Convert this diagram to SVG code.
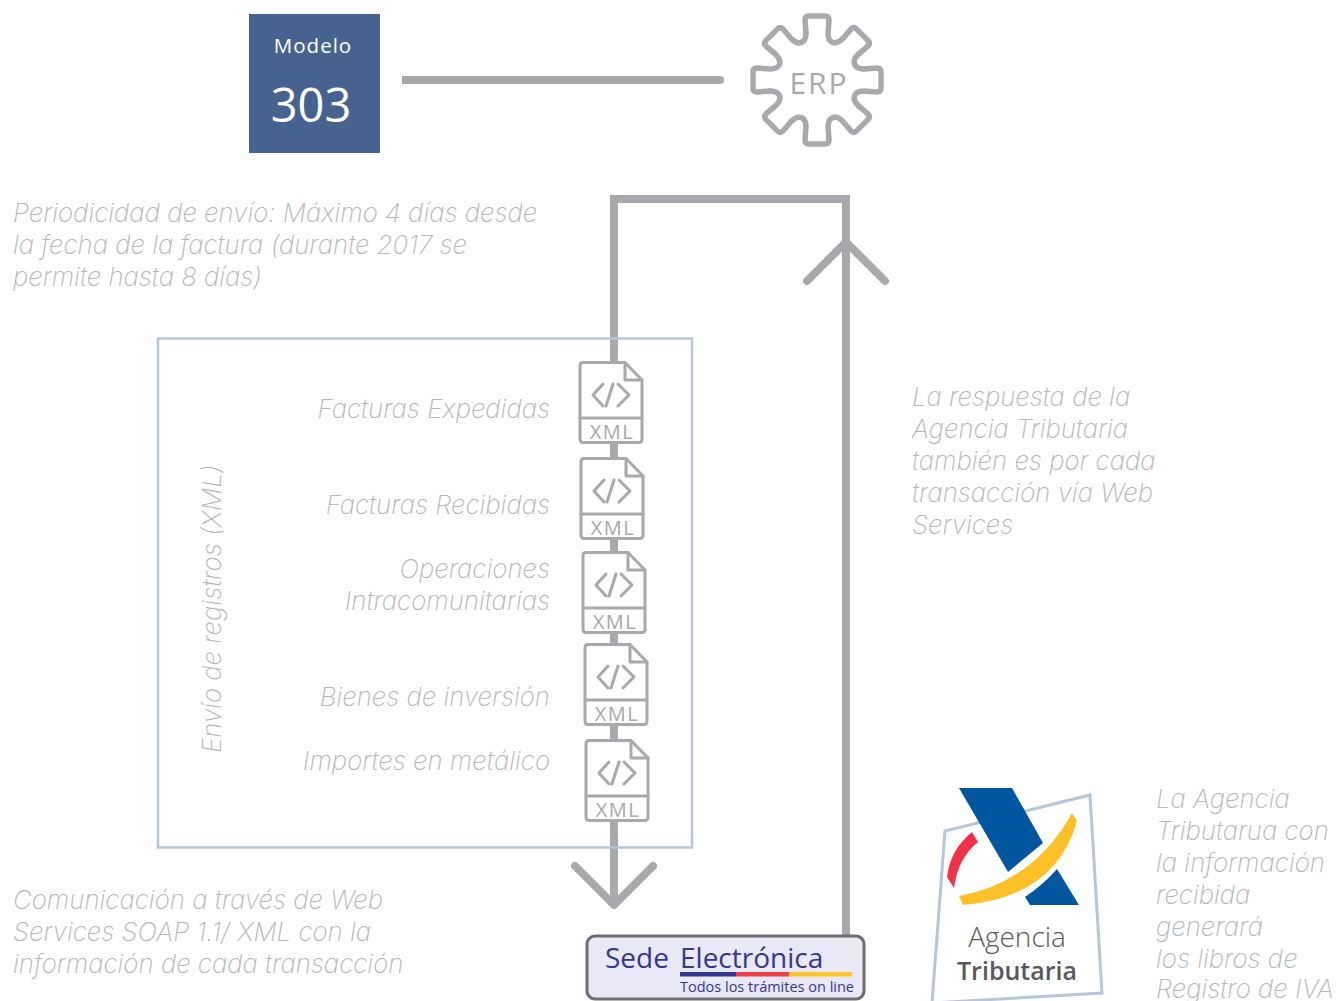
<svg xmlns="http://www.w3.org/2000/svg" xmlns:xlink="http://www.w3.org/1999/xlink" width="1341" height="1001" viewBox="0 0 1341 1001">
<style>
text{font-family:"Open Sans","Liberation Sans",sans-serif}
.note,.note text{font-family:"Inter","Open Sans",sans-serif;font-size:25.800px;font-style:italic;font-weight:200;fill:#b4b6b8}
.e{text-anchor:end}
.conn{fill:none;stroke:#a7a9ac;stroke-width:8;stroke-linejoin:miter}
.rnd{stroke-linecap:round;stroke-linejoin:round}
.ic{fill:none;stroke:#a7a9ac;stroke-width:3;stroke-linecap:round;stroke-linejoin:round}
.xml{font-size:20px;font-weight:500;fill:#a7a9ac;text-anchor:middle;letter-spacing:1.500px}
</style>
<defs>
<path id="tooth" d="M-11,-47L-12,-60Q-12,-64 -8,-64H8Q12,-64 12,-60L11,-47C11,-37 18.300,-34 25.400,-41.100" fill="none" stroke="#a7a9ac" stroke-width="5.500" stroke-linejoin="round" stroke-linecap="round"/>
<g id="doc">
<path d="M3,0.500H45L62,18V77Q62,80.500 59,80.500H3Q0,80.500 0,77V4Q0,0.500 3,0.500Z" fill="#fff" stroke="#a7a9ac" stroke-width="3" stroke-linejoin="round"/>
<path d="M45,0.500V18H62M0,56H62" class="ic"/>
<path d="M23,22L13,33L23,44M33,22L26,44M38,22L49,33L38,44" class="ic"/>
</g>
</defs>
<g id="connectors">
<path class="conn" d="M402,80H720"/>
<path class="conn rnd" d="M720,80H720"/>
<path class="conn" d="M614,905V199H846V936"/>
<path class="conn rnd" d="M807,281L846,242L885,281"/>
<path class="conn rnd" d="M575,866L614,905L653,866"/>
</g>
<g id="modelo303">
<rect x="249" y="14" width="131" height="139" fill="#466390"/>
<text x="313" y="53" font-size="20.500" fill="#fff" text-anchor="middle" letter-spacing="1">Modelo</text>
<text x="311" y="122" font-size="47" fill="#fff" text-anchor="middle">303</text>
</g>
<g id="erp">
<g transform="translate(817,80)">
<use xlink:href="#tooth"/>
<use xlink:href="#tooth" transform="rotate(45)"/>
<use xlink:href="#tooth" transform="rotate(90)"/>
<use xlink:href="#tooth" transform="rotate(135)"/>
<use xlink:href="#tooth" transform="rotate(180)"/>
<use xlink:href="#tooth" transform="rotate(225)"/>
<use xlink:href="#tooth" transform="rotate(270)"/>
<use xlink:href="#tooth" transform="rotate(315)"/>
</g>
<text x="819" y="94" font-size="30" fill="#a7a9ac" text-anchor="middle" letter-spacing="2">ERP</text>
</g>
<g id="note-periodicidad" class="note">
<text x="13" y="222">Periodicidad de envío: Máximo 4 días desde</text>
<text x="13" y="254">la fecha de la factura (durante 2017 se</text>
<text x="13" y="286">permite hasta 8 días)</text>
</g>
<g id="envio-registros">
<rect x="158" y="338.500" width="534" height="509" fill="none" stroke="#b8c5d8" stroke-width="2.500"/>
<text class="note" transform="translate(221,753) rotate(-90)">Envío de registros (XML)</text>
</g>
<g id="facturas-expedidas">
<text class="note e" x="550" y="418">Facturas Expedidas</text>
<use xlink:href="#doc" x="580" y="362"/>
<text class="xml" x="612" y="439">XML</text>
</g>
<g id="facturas-recibidas">
<text class="note e" x="550" y="514">Facturas Recibidas</text>
<use xlink:href="#doc" x="581" y="458"/>
<text class="xml" x="613" y="535">XML</text>
</g>
<g id="operaciones">
<text class="note e" x="550" y="578">Operaciones</text>
<text class="note e" x="550" y="610">Intracomunitarias</text>
<use xlink:href="#doc" x="583" y="552"/>
<text class="xml" x="615" y="629">XML</text>
</g>
<g id="bienes">
<text class="note e" x="550" y="706">Bienes de inversión</text>
<use xlink:href="#doc" x="585" y="644"/>
<text class="xml" x="617" y="721">XML</text>
</g>
<g id="importes">
<text class="note e" x="550" y="770">Importes en metálico</text>
<use xlink:href="#doc" x="586" y="740"/>
<text class="xml" x="618" y="817">XML</text>
</g>
<g id="note-respuesta" class="note">
<text x="912" y="406">La respuesta de la</text>
<text x="912" y="438">Agencia Tributaria</text>
<text x="912" y="470">también es por cada</text>
<text x="912" y="502">transacción vía Web</text>
<text x="912" y="534">Services</text>
</g>
<g id="note-comunicacion" class="note">
<text x="13" y="909">Comunicación a través de Web</text>
<text x="13" y="941">Services SOAP 1.1/ XML con la</text>
<text x="13" y="973">información de cada transacción</text>
</g>
<g id="sede">
<rect x="587" y="936" width="277" height="63" rx="8" fill="#e9e8f5" stroke="#6d6e71" stroke-width="3"/>
<text x="605" y="968" font-size="28" fill="#35368f">Sede</text>
<text x="680" y="968" font-size="28" fill="#35368f">Electrónica</text>
<rect x="680" y="972" width="56" height="4.500" fill="#35368f"/>
<rect x="736" y="972" width="53" height="4.500" fill="#ef3e4a"/>
<rect x="789" y="972" width="63" height="4.500" fill="#fdc52a"/>
<text x="680" y="992" font-size="14.500" fill="#35368f">Todos los trámites on line</text>
</g>
<g id="agencia">
<path d="M945,831L1090,795L1102,993L932,1003Z" fill="#fff" stroke="#b8c5d8" stroke-width="3"/>
<path d="M959,788H1012L1043,843L1008,872Z" fill="#00579f"/>
<path d="M1057,869L1079,905H1030L1025,897Q1043,885 1057,869Z" fill="#00579f"/>
<path d="M959,896Q1034,882 1072,813L1077,821Q1056,897 963,905Z" fill="#fdc128"/>
<path d="M972,832L978,842Q958,858 954,888L947,877Q950,850 972,832Z" fill="#ef3349"/>
<text x="1017" y="947" font-size="28" fill="#58595b" text-anchor="middle" font-weight="300">Agencia</text>
<text x="1017" y="980" font-size="25" fill="#58595b" text-anchor="middle" font-weight="600">Tributaria</text>
</g>
<g id="note-agencia" class="note">
<text x="1156" y="808">La Agencia</text>
<text x="1156" y="840">Tributarua con</text>
<text x="1156" y="872">la información</text>
<text x="1156" y="904">recibida</text>
<text x="1156" y="936">generará</text>
<text x="1156" y="968">los libros de</text>
<text x="1156" y="998">Registro de IVA</text>
</g>
</svg>
